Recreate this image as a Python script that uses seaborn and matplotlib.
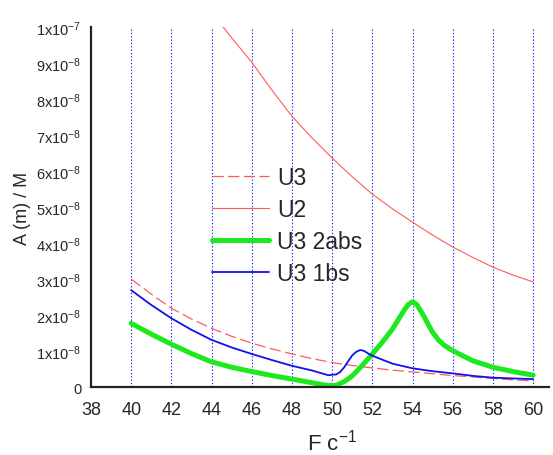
import matplotlib
matplotlib.use("Agg")
import matplotlib.pyplot as plt
import seaborn as sns
import pandas as pd
from matplotlib.ticker import MultipleLocator

# values, y in units of 1e-8
x_u = [40, 41, 42, 43, 44, 45, 46, 47, 48, 49, 50,
       51, 52, 53, 54, 55, 56, 57, 58, 59, 60]
u2 = [15.2, 13.9, 12.6, 11.5, 10.4, 9.7, 9.02, 8.25, 7.52, 6.92, 6.36,
      5.84, 5.36, 4.95, 4.58, 4.22, 3.89, 3.6, 3.33, 3.11, 2.92]
u3 = [3.0, 2.58, 2.19, 1.89, 1.63, 1.41, 1.22, 1.06, 0.92, 0.79, 0.68,
      0.6, 0.53, 0.47, 0.42, 0.37, 0.32, 0.28, 0.24, 0.2, 0.17]

x_1bs = [40, 41, 42, 43, 44, 45, 46, 47, 48, 49, 49.8, 50.2, 50.4, 50.6,
         50.8, 51.0, 51.2, 51.4, 51.6, 51.8, 52, 53, 54, 55, 56, 57, 58,
         59, 60]
u3_1bs = [2.69, 2.28, 1.91, 1.59, 1.31, 1.1, 0.92, 0.75, 0.59, 0.46, 0.33,
          0.35, 0.42, 0.55, 0.72, 0.88, 0.98, 1.03, 1.0, 0.93, 0.87, 0.65,
          0.52, 0.44, 0.38, 0.31, 0.26, 0.24, 0.22]

x_2abs = [40, 41, 42, 43, 44, 45, 46, 47, 48, 49, 49.8, 50.2, 50.6, 51,
          51.5, 52, 52.5, 53, 53.3, 53.6, 53.8, 54.0, 54.2, 54.5, 54.8, 55,
          55.3, 55.6, 56, 57, 58, 59, 60]
u3_2abs = [1.77, 1.47, 1.19, 0.93, 0.70, 0.55, 0.43, 0.32, 0.22, 0.12, 0.04,
           0.05, 0.15, 0.31, 0.6, 0.92, 1.25, 1.61, 1.88, 2.15, 2.3, 2.37,
           2.3, 2.03, 1.72, 1.52, 1.3, 1.15, 1.01, 0.73, 0.55, 0.43, 0.33]

y_ticks = [0, 1, 2, 3, 4, 5, 6, 7, 8, 9, 10]
y_labels = ["0"] + [f"{v}x10$^{{-8}}$" for v in range(1, 10)] + ["1x10$^{-7}$"]
x_ticks = list(range(38, 61, 2))

sns.set_style("white")
plt.rcParams["font.family"] = ["Liberation Sans", "DejaVu Sans"]
plt.rcParams["mathtext.fontset"] = "custom"
plt.rcParams["mathtext.rm"] = "Liberation Sans"
plt.rcParams["mathtext.default"] = "regular"

fig = plt.figure(figsize=(5.53, 4.56), dpi=100)
ax = fig.add_axes([0.1646, 0.149, 0.8285, 0.7895])

scale = 1e-8
df_u3 = pd.DataFrame({"x": x_u, "y": [v * scale for v in u3]})
df_u2 = pd.DataFrame({"x": x_u, "y": [v * scale for v in u2]})
df_2abs = pd.DataFrame({"x": x_2abs, "y": [v * scale for v in u3_2abs]})
df_1bs = pd.DataFrame({"x": x_1bs, "y": [v * scale for v in u3_1bs]})

# vertical dotted grid
for xv in x_ticks[1:]:
    ax.axvline(xv, color="#2020ff", lw=0.8, ls=(0, (1.2, 1.8)), zorder=0)

sns.lineplot(data=df_u3, x="x", y="y", ax=ax, color="#ff5a5a", lw=0.9,
             label="U3", sort=False)
ax.lines[-1].set_dashes([9, 3.5])
sns.lineplot(data=df_u2, x="x", y="y", ax=ax, color="#ff5a5a", lw=0.8,
             label="U2", sort=False)
sns.lineplot(data=df_2abs, x="x", y="y", ax=ax, color="#1ee81e", lw=3.6,
             label="U3 2abs", sort=False)
sns.lineplot(data=df_1bs, x="x", y="y", ax=ax, color="#1010f0", lw=1.3,
             label="U3 1bs", sort=False)

ax.set_xlim(38, 60.8)
ax.set_ylim(0, 1e-7)
ax.set_xticks(x_ticks)
ax.xaxis.set_minor_locator(MultipleLocator(1))
ax.set_yticks([v * scale for v in y_ticks])
ax.set_yticklabels(y_labels)
ax.yaxis.set_minor_locator(MultipleLocator(0.5e-8))

for side in ["top", "right"]:
    ax.spines[side].set_visible(False)
for side in ["left", "bottom"]:
    ax.spines[side].set_linewidth(1.6)
    ax.spines[side].set_color("#222222")

ax.tick_params(axis="both", which="major", direction="out", length=5,
               width=1.4, color="#222222")
ax.tick_params(axis="both", which="minor", direction="out", length=3,
               width=1.2, color="#222222")
ax.tick_params(axis="x", labelsize=13, pad=5)
ax.tick_params(axis="y", labelsize=10.5, pad=2)

ax.set_xlabel("F c$^{-1}$", fontsize=16)
ax.xaxis.set_label_coords(0.526, -0.115)
ax.set_ylabel("A (m) / M", fontsize=13, labelpad=4)

leg = ax.legend(loc="upper left", bbox_to_anchor=(0.218, 0.67), frameon=False,
                fontsize=16.5, handlelength=2.5, handletextpad=0.35,
                labelspacing=0.38)

fig.savefig("out.png", dpi=100, facecolor="white")
